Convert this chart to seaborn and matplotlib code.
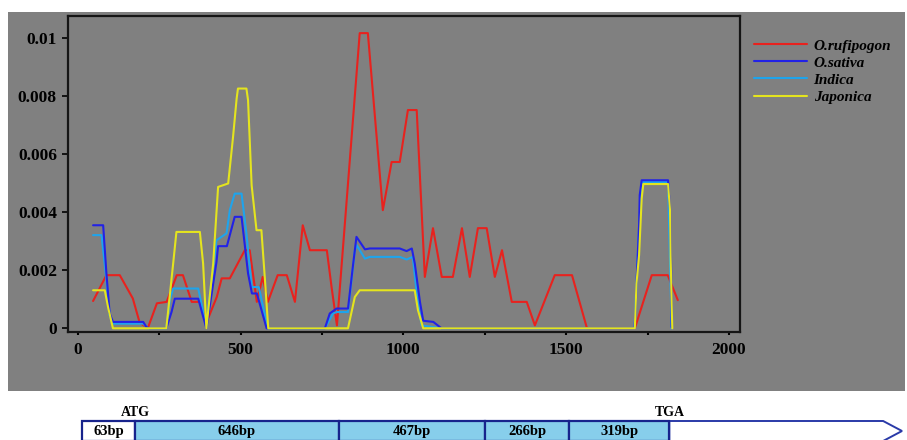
import pandas as pd
import seaborn as sns
import matplotlib.pyplot as plt
from matplotlib.patches import Rectangle, Polygon
from matplotlib.font_manager import FontProperties

# sliding-window nucleotide diversity
rufi_pos = [47, 88, 129, 169, 190, 215, 243, 273, 304, 323, 350, 375, 396, 427, 442, 467,
            513, 528, 550, 568, 584, 614, 642, 667, 691, 713, 765, 780, 796, 866, 891, 937,
            964, 989, 1014, 1041, 1066, 1091, 1118, 1152, 1180, 1204, 1229, 1256, 1281, 1303,
            1333, 1379, 1404, 1465, 1518, 1564, 1711, 1763, 1812, 1843]
rufi_pi = [0.00094, 0.00183, 0.00183, 0.00103, 0.00020, 0.0, 0.00086, 0.00091, 0.00183, 0.00183,
           0.00091, 0.00091, 0.00022, 0.00108, 0.00172, 0.00172, 0.00269, 0.00269, 0.00091,
           0.00177, 0.00091, 0.00183, 0.00183, 0.00091, 0.00355, 0.00269, 0.00269, 0.00138,
           0.00010, 0.01017, 0.01017, 0.00407, 0.00573, 0.00573, 0.00752, 0.00752, 0.00177,
           0.00345, 0.00177, 0.00177, 0.00345, 0.00177, 0.00345, 0.00345, 0.00177, 0.00269,
           0.00091, 0.00091, 0.00010, 0.00183, 0.00183, 0.0, 0.0, 0.00183, 0.00183, 0.00097]

sativa_pos = [47, 78, 88, 98, 108, 201, 211, 221, 272, 288, 298, 370, 395, 426, 431, 458, 482,
              503, 523, 535, 550, 580, 759, 774, 795, 830, 846, 856, 882, 897, 989, 1010, 1026,
              1035, 1051, 1061, 1092, 1117, 1710, 1713, 1716, 1724, 1726, 1732, 1813, 1819,
              1822, 1824]
sativa_pi = [0.00355, 0.00355, 0.00189, 0.00051, 0.00022, 0.00022, 0.00004, 0.0, 0.0, 0.00056,
             0.00102, 0.00102, 0.0, 0.00228, 0.00283, 0.00283, 0.00384, 0.00384, 0.00189,
             0.00120, 0.00120, 0.0, 0.0, 0.00051, 0.00068, 0.00068, 0.00223, 0.00315, 0.00272,
             0.00275, 0.00275, 0.00266, 0.00275, 0.00224, 0.00091, 0.00026, 0.00022, 0.0, 0.0,
             0.00052, 0.00154, 0.00355, 0.00459, 0.00510, 0.00510, 0.00407, 0.00245, 0.00004]

indica_pos = [47, 73, 88, 98, 108, 201, 215, 272, 283, 293, 370, 395, 400, 426, 457, 467, 482,
              503, 518, 534, 556, 580, 584, 759, 784, 795, 830, 851, 857, 882, 897, 989, 1010,
              1029, 1040, 1056, 1117, 1710, 1722, 1732, 1813, 1824]
indica_pi = [0.00321, 0.00321, 0.00166, 0.00045, 0.00016, 0.00016, 0.0, 0.0, 0.00097, 0.00137,
             0.00137, 0.00004, 0.00062, 0.00303, 0.00327, 0.00407, 0.00464, 0.00464, 0.00327,
             0.00142, 0.00142, 0.00020, 0.0, 0.0, 0.00051, 0.00056, 0.00056, 0.00269, 0.00286,
             0.00240, 0.00246, 0.00246, 0.00237, 0.00246, 0.00131, 0.00010, 0.0, 0.0, 0.00303,
             0.00504, 0.00504, 0.0]

japonica_pos = [47, 83, 93, 108, 272, 293, 303, 375, 385, 395, 416, 431, 462, 477, 488, 492,
                518, 523, 534, 549, 564, 575, 585, 830, 851, 866, 1035, 1045, 1061, 1711, 1716,
                1724, 1728, 1732, 1737, 1813, 1819, 1821, 1824, 1826]
japonica_pi = [0.00131, 0.00131, 0.00073, 0.0, 0.0, 0.00223, 0.00332, 0.00332, 0.00223, 0.0,
               0.00223, 0.00487, 0.00499, 0.00660, 0.00792, 0.00826, 0.00826, 0.00786, 0.00493,
               0.00338, 0.00338, 0.00166, 0.0, 0.0, 0.00108, 0.00131, 0.00131, 0.00062, 0.0,
               0.0, 0.00154, 0.00252, 0.00349, 0.00447, 0.00497, 0.00497, 0.00407, 0.00246,
               0.00085, 0.0]

species = ["O.rufipogon", "O.sativa", "Indica", "Japonica"]
colors = ["#e8221e", "#2222e6", "#1ea4ec", "#e4e41e"]

# gene model below the plot
seg_labels = ["63bp", "646bp", "467bp", "266bp", "319bp"]
seg_bp = [63, 646, 467, 266, 319]
seg_fill = ["white", "#87ceeb", "#87ceeb", "#87ceeb", "#87ceeb"]
utr3_len = 680

frames = []
for name, pos, pi in zip(species,
                         [rufi_pos, sativa_pos, indica_pos, japonica_pos],
                         [rufi_pi, sativa_pi, indica_pi, japonica_pi]):
    frames.append(pd.DataFrame({"pos": pos, "pi": pi, "species": name}))
df = pd.concat(frames, ignore_index=True)

sns.set_style("ticks")
plt.rcParams["font.family"] = ["Liberation Serif", "DejaVu Serif"]
plt.rcParams["font.weight"] = "bold"
plt.rcParams["text.color"] = "black"

fig = plt.figure(figsize=(9.07, 4.40), dpi=100)
fig.patches.append(Rectangle((8 / 907, 1 - 391 / 440), 897 / 907, 379 / 440,
                             transform=fig.transFigure, facecolor="#808080",
                             edgecolor="none", zorder=-5))

ax = fig.add_axes([68 / 907, 1 - 332 / 440, 672 / 907, 316 / 440])
ax.set_facecolor("#808080")
sns.lineplot(data=df, x="pos", y="pi", hue="species", hue_order=species,
             palette=colors, sort=False, estimator=None, linewidth=1.5, ax=ax)
# drawing order: red, light blue, dark blue, yellow on top
for line, z in zip(ax.lines, [1.7, 1.9, 1.8, 2.0]):
    line.set_zorder(z)

ax.set_xlim(-30, 2034)
ax.set_ylim(-0.000128, 0.01076)
ax.set_xticks([0, 500, 1000, 1500, 2000])
ax.set_xticks([250, 750, 1250, 1750], minor=True)
ax.set_yticks([0, 0.002, 0.004, 0.006, 0.008, 0.01])
ax.set_yticklabels(["0", "0.002", "0.004", "0.006", "0.008", "0.01"])
ax.tick_params(axis="y", length=4.5, width=1.2, direction="out", pad=3.5,
               labelsize=12.5, colors="black")
ax.tick_params(axis="x", which="both", length=2.5, width=1.5, direction="out",
               pad=5, labelsize=12.5, colors="black")
for lab in ax.get_xticklabels() + ax.get_yticklabels():
    lab.set_fontweight("bold")
ax.set_xlabel("")
ax.set_ylabel("")
for s in ax.spines.values():
    s.set_visible(True)
    s.set_color("#151515")
    s.set_linewidth(1.6)

handles, labels = ax.get_legend_handles_labels()
leg = ax.legend(handles, labels, loc="upper left",
                bbox_to_anchor=(754 / 907, 1 - 39 / 440), bbox_transform=fig.transFigure,
                frameon=False, handlelength=3.5, handletextpad=0.4, labelspacing=0.22,
                borderpad=0, borderaxespad=0,
                prop=FontProperties(family="Liberation Serif", weight="bold",
                                    style="italic", size=11))
for t in leg.get_texts():
    t.set_color("black")

# gene structure diagram
edge = "#17238c"
total = max(seg_bp[0], 170) + sum(seg_bp[1:]) + utr3_len + 60
ax2 = fig.add_axes([82 / 907, -5 / 440, 820 / 907, 50 / 440])
ax2.set_xlim(0, total)
ax2.set_ylim(0, 50)
ax2.axis("off")
left = 0
for lab, bp, fill in zip(seg_labels, seg_bp, seg_fill):
    w = max(bp, 170)
    ax2.add_patch(Rectangle((left, 4), w, 20, facecolor=fill, edgecolor=edge,
                            linewidth=1.6, clip_on=False))
    ax2.text(left + w / 2, 14, lab, ha="center", va="center", fontsize=10.5,
             fontweight="bold", color="black")
    left += w
ax2.add_patch(Polygon([(left, 4), (left + utr3_len, 4), (left + utr3_len + 60, 14),
                       (left + utr3_len, 24), (left, 24)], closed=True,
                      facecolor="white", edgecolor="#2a3aa8", linewidth=1.4,
                      clip_on=False, zorder=0.5))
first_w = max(seg_bp[0], 170)
ax2.text(first_w, 33, "ATG", ha="center", va="center", fontsize=10, fontweight="bold")
ax2.text(left, 33, "TGA", ha="center", va="center", fontsize=10, fontweight="bold")

fig.savefig("out.png", dpi=100)
